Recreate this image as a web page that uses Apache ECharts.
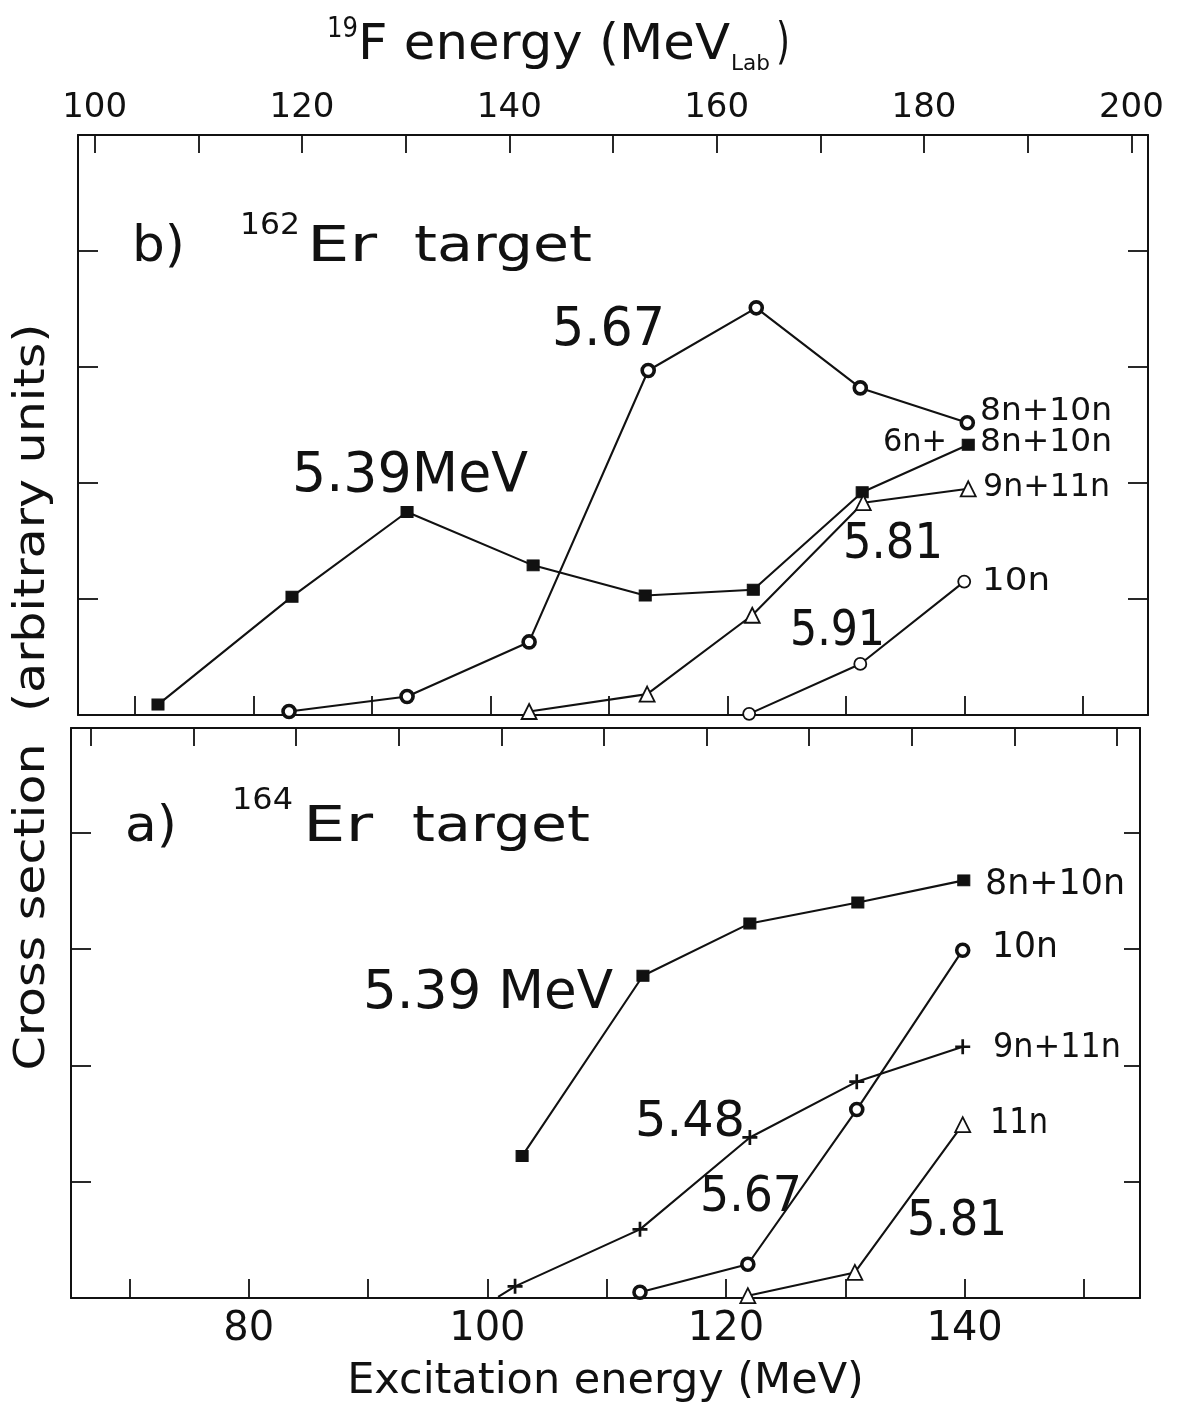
<!DOCTYPE html>
<html>
<head>
<meta charset="utf-8">
<script src="https://cdn.jsdelivr.net/npm/echarts@6.0.0/dist/echarts.min.js"></script>
<style>
html, body { margin: 0; padding: 0; background: #fff; }
#chart { width: 1187px; height: 1403px; }
</style>
</head>
<body>
<div id="chart"></div>
<script>
// b) 162Er target (upper panel), excitation energy in MeV
const b539X = [71.95, 83.26, 92.97, 103.61, 113.07, 122.19, 131.38, 140.33];
const b539Y = [0.09, 1.02, 1.75, 1.29, 1.03, 1.08, 1.92, 2.33];
const b567X = [83.01, 92.97, 103.27, 113.32, 122.44, 131.22, 140.25];
const b567Y = [0.03, 0.16, 0.63, 2.97, 3.51, 2.82, 2.52];
const b581X = [103.27, 113.23, 122.10, 131.47, 140.33];
const b581Y = [0.03, 0.18, 0.86, 1.83, 1.95];
const b591X = [121.84, 131.22, 139.99];
const b591Y = [0.01, 0.44, 1.15];

// a) 164Er target (lower panel)
const a539X = [102.91, 113.04, 122.0, 131.05, 139.93];
const a539Y = [1.22, 2.77, 3.22, 3.40, 3.59];
const a548X = [100.9, 102.32, 112.79, 122.0, 130.96, 139.84];
const a548Y = [0.01, 0.10, 0.59, 1.38, 1.86, 2.16];
const a567X = [112.79, 121.83, 130.96, 139.84];
const a567Y = [0.05, 0.29, 1.62, 2.99];
const a581X = [121.83, 130.80, 139.84];
const a581Y = [0.02, 0.22, 1.49];

// ticks
const exTicks = [70, 80, 90, 100, 110, 120, 130, 140, 150];
const exLabels = [80, 100, 120, 140];
const labTicks = [100, 110, 120, 130, 140, 150, 160, 170, 180, 190, 200];
const labLabels = [100, 120, 140, 160, 180, 200];
const yTicks = [1, 2, 3, 4];

const ink = '#111';
const FONT = '"DejaVu Sans", sans-serif';

function pts(xs, ys) {
    return xs.map((x, i) => [x, ys[i]]);
}

function axis(opt) {
    const tick = Object.assign({ show: true, inside: true, length: 19,
        lineStyle: { color: ink, width: 1.8 } }, opt.tick || {});
    const label = Object.assign({ show: false, color: ink, fontFamily: FONT }, opt.label || {});
    const a = {
        type: 'value',
        gridIndex: opt.grid,
        position: opt.position,
        min: opt.min,
        max: opt.max,
        axisLine: { show: true, onZero: false, lineStyle: { color: ink, width: 2 } },
        axisTick: tick,
        axisLabel: label,
        splitLine: { show: false }
    };
    return Object.assign(a, opt.extra || {});
}

const sym = {
    square: { symbol: 'rect', symbolSize: [12, 11], itemStyle: { color: ink, borderColor: ink, borderWidth: 1 } },
    ring: { symbol: 'circle', symbolSize: 12, itemStyle: { color: '#fff', borderColor: ink, borderWidth: 3.6 } },
    circle: { symbol: 'circle', symbolSize: 12, itemStyle: { color: '#fff', borderColor: ink, borderWidth: 1.8 } },
    triangle: { symbol: 'triangle', symbolSize: 15, itemStyle: { color: '#fff', borderColor: ink, borderWidth: 1.8 } },
    plus: { symbol: 'path://M4.1,0H5.9V4.1H10V5.9H5.9V10H4.1V5.9H0V4.1H4.1Z', symbolSize: 15, itemStyle: { color: ink } }
};

function series(panel, data, marker) {
    return Object.assign({
        type: 'line',
        xAxisIndex: panel * 2,
        yAxisIndex: panel * 2,
        data: data,
        showSymbol: true,
        silent: true,
        lineStyle: { color: ink, width: 2.1 }
    }, sym[marker]);
}

// plus series starts at the axis without a marker
const a548Data = pts(a548X, a548Y).map((p, i) => (i === 0 ? { value: p, symbol: 'none' } : p));

// text notes: [text, left x, middle y, font size, width in the drawing]
const notes = [
    ['5.39MeV', 292, 476, 56, 236],
    ['5.67', 552, 331, 54, 113],
    ['8n+10n', 980, 412, 32, 132],
    ['6n+', 883, 443, 32, 64],
    ['8n+10n', 980, 443, 32, 132],
    ['9n+11n', 983, 488, 32, 127],
    ['5.81', 843, 545, 50, 100],
    ['10n', 982, 582, 32, 68],
    ['5.91', 790, 632, 50, 95],
    ['5.39 MeV', 363, 994, 54, 250],
    ['5.48', 635, 1123, 50, 110],
    ['5.67', 700, 1198, 50, 102],
    ['8n+10n', 985, 885, 35, 140],
    ['10n', 992, 948, 35, 66],
    ['9n+11n', 993, 1048, 34, 128],
    ['11n', 990, 1124, 35, 58],
    ['5.81', 907, 1222, 50, 100],
    ['b)', 132, 248, 50, 53],
    ['162', 240, 226, 30, 60],
    ['Er', 307, 248, 50, 70],
    ['target', 414, 248, 50, 178],
    ['a)', 125, 828, 50, 52],
    ['164', 232, 801, 30, 61],
    ['Er', 303, 828, 50, 70],
    ['target', 412, 828, 50, 178],
    ['19', 327, 30, 28, 31],
    ['F energy (MeV', 358, 46, 50, 372],
    ['Lab', 731, 64, 22, 39],
    [')', 776, 45, 50, 14]
];

const ctx = document.createElement('canvas').getContext('2d');
function stretch(text, size, width) {
    ctx.font = size + 'px ' + FONT;
    return width / ctx.measureText(text).width;
}

const graphic = notes.map(n => ({
    type: 'text',
    x: n[1],
    y: n[2],
    scaleX: stretch(n[0], n[3], n[4]),
    silent: true,
    style: { text: n[0], fontFamily: FONT, fontSize: n[3], fill: ink,
        textAlign: 'left', textVerticalAlign: 'middle' }
}));
const yName = 'Cross section  (arbitrary units)';
graphic.push({
    type: 'text',
    x: 33,
    y: 697,
    rotation: Math.PI / 2,
    scaleX: stretch(yName, 43, 747),
    silent: true,
    style: { text: yName, fontFamily: FONT, fontSize: 43, fill: ink,
        textAlign: 'center', textVerticalAlign: 'middle' }
});

const chart = echarts.init(document.getElementById('chart'), null, { renderer: 'canvas' });

const option = {
    animation: false,
    backgroundColor: '#fff',
    grid: [
        { left: 78, top: 135, width: 1070, height: 580, outerBoundsMode: 'none' },
        { left: 71, top: 728, width: 1069, height: 570, outerBoundsMode: 'none' }
    ],
    xAxis: [
        axis({ grid: 0, position: 'bottom', min: 65.2, max: 155.5, tick: { customValues: exTicks } }),
        axis({ grid: 0, position: 'top', min: 98.4, max: 201.6,
            tick: { customValues: labTicks, length: 18 },
            label: { show: true, customValues: labLabels, fontSize: 34, margin: 10 } }),
        axis({ grid: 1, position: 'bottom', min: 65.1, max: 154.7,
            tick: { customValues: exTicks },
            label: { show: true, customValues: exLabels, fontSize: 40, margin: 12 },
            extra: { name: 'Excitation energy (MeV)', nameLocation: 'middle', nameGap: 62,
                nameTextStyle: { fontFamily: FONT, fontSize: 43, color: ink } } }),
        axis({ grid: 1, position: 'top', min: 98.05, max: 202.24, tick: { customValues: labTicks, length: 18 } })
    ],
    yAxis: [
        axis({ grid: 0, position: 'left', min: 0, max: 5, tick: { customValues: yTicks, length: 20 } }),
        axis({ grid: 0, position: 'right', min: 0, max: 5, tick: { customValues: yTicks, length: 20 } }),
        axis({ grid: 1, position: 'left', min: 0, max: 4.9, tick: { customValues: yTicks, length: 20 } }),
        axis({ grid: 1, position: 'right', min: 0, max: 4.9, tick: { customValues: yTicks, length: 16 } })
    ],
    series: [
        series(0, pts(b539X, b539Y), 'square'),
        series(0, pts(b567X, b567Y), 'ring'),
        series(0, pts(b581X, b581Y), 'triangle'),
        series(0, pts(b591X, b591Y), 'circle'),
        series(1, pts(a539X, a539Y), 'square'),
        series(1, a548Data, 'plus'),
        series(1, pts(a567X, a567Y), 'ring'),
        series(1, pts(a581X, a581Y), 'triangle')
    ],
    graphic: graphic
};

chart.setOption(option);
</script>
</body>
</html>
